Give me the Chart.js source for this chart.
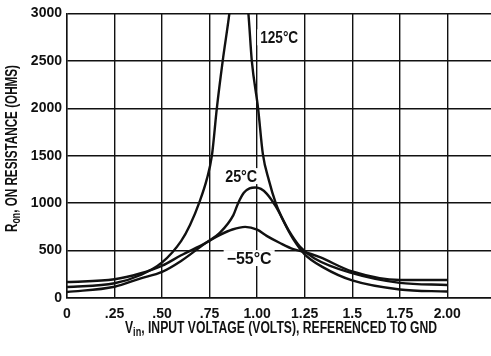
<!DOCTYPE html>
<html>
<head>
<meta charset="utf-8">
<script src="https://cdn.jsdelivr.net/npm/chart.js@4"></script>
<style>
  body { margin: 0; background: #fff; }
  #wrap { width: 491px; height: 356px; }
</style>
</head>
<body>
<div id="wrap"><canvas id="myChart" width="491" height="356"></canvas></div>
<script>
// input voltage (V) and on resistance (ohms) for each temperature
const volts125 = [0, 0.25, 0.384, 0.5, 0.6, 0.647, 0.70, 0.735, 0.762, 0.788, 0.819, 0.854, 0.905, 0.954, 0.972, 1.005, 1.03, 1.062, 1.098, 1.144, 1.19, 1.25, 1.35, 1.5, 1.75, 2.0];
const ohms125  = [116, 155, 240, 375, 600, 770, 1030, 1250, 1500, 2000, 2500, 3000, 3900, 3000, 2500, 2000, 1520, 1240, 1000, 790, 620, 460, 320, 185, 90, 68];

const volts25 = [0, 0.25, 0.384, 0.5, 0.6, 0.726, 0.805, 0.875, 0.90, 0.93, 0.96, 0.99, 1.02, 1.05, 1.098, 1.165, 1.226, 1.3, 1.5, 1.75, 2.0];
const ohms25  = [63, 119, 205, 275, 390, 576, 690, 874, 1000, 1110, 1155, 1165, 1150, 1100, 965, 716, 540, 420, 262, 160, 137];

const voltsM55 = [0, 0.25, 0.384, 0.5, 0.6, 0.726, 0.805, 0.87, 0.937, 1.0, 1.05, 1.12, 1.19, 1.25, 1.33, 1.5, 1.75, 2.0];
const ohmsM55  = [168, 197, 258, 340, 450, 576, 665, 722, 750, 720, 655, 580, 515, 485, 430, 280, 190, 190];

const xTickValues = [0, 0.25, 0.5, 0.75, 1.0, 1.25, 1.5, 1.75, 2.0];
const xTickLabels = ['0', '.25', '.50', '.75', '1.00', '1.25', '1.5', '1.75', '2.00'];

const curveLabels = [
    { text: '125°C', v: 1.116, r: 2748, w: 38 },
    { text: '25°C',  v: 0.916, r: 1285, w: 32 },
    { text: '\u221255°C', v: 0.958, r: 421, w: 45 }
];

const FONT = '"Liberation Sans", Arial, sans-serif';

function toPoints(xs, ys) {
    let pts = [];
    for (let i = 0; i < xs.length; i++) {
        pts.push({ x: xs[i], y: ys[i] });
    }
    return pts;
}

function makeSet(label, xs, ys) {
    return {
        label: label,
        data: toPoints(xs, ys),
        borderColor: '#111',
        borderWidth: 2.4,
        pointRadius: 0,
        fill: false,
        cubicInterpolationMode: 'monotone'
    };
}

// draws text pieces in a row (some as subscripts), squeezed to a given width
function drawRich(ctx, parts, cx, cy, width) {
    let total = 0;
    parts.forEach(p => {
        ctx.font = 'bold ' + p.size + 'px ' + FONT;
        p.w = ctx.measureText(p.t).width;
        total += p.w;
    });
    let sx = width / total;
    ctx.save();
    ctx.translate(cx - width / 2, cy);
    ctx.scale(sx, 1);
    ctx.textBaseline = 'alphabetic';
    ctx.textAlign = 'left';
    let x = 0;
    parts.forEach(p => {
        ctx.font = 'bold ' + p.size + 'px ' + FONT;
        ctx.fillText(p.t, x, p.dy || 0);
        x += p.w;
    });
    ctx.restore();
}

const labelsPlugin = {
    id: 'labelsPlugin',
    beforeDatasetsDraw(chart) {
        const ctx = chart.ctx;
        const xs = chart.scales.x, ys = chart.scales.y;
        ctx.save();
        curveLabels.forEach(l => {
            let px = xs.getPixelForValue(l.v);
            let py = ys.getPixelForValue(l.r);
            ctx.fillStyle = '#fff';
            ctx.fillRect(px - l.w / 2 - 3, py - 8, l.w + 6, 16);
            ctx.fillStyle = '#111';
            drawRich(ctx, [{ t: l.text, size: 16 }], px, py + 6, l.w);
        });
        ctx.restore();
    },
    afterDraw(chart) {
        const ctx = chart.ctx;
        ctx.save();
        ctx.fillStyle = '#111';
        drawRich(ctx, [
            { t: 'V', size: 16 },
            { t: 'in', size: 12, dy: 3 },
            { t: ', INPUT VOLTAGE (VOLTS), REFERENCED TO GND', size: 16 }
        ], 281, 333, 312);

        ctx.translate(17, 148.5);
        ctx.rotate(-Math.PI / 2);
        drawRich(ctx, [
            { t: 'R', size: 16 },
            { t: 'on', size: 12, dy: 3 },
            { t: ', ON RESISTANCE (OHMS)', size: 16 }
        ], 0, 0, 167);
        ctx.restore();
    }
};

const config = {
    type: 'line',
    data: {
        datasets: [
            makeSet('125°C', volts125, ohms125),
            makeSet('25°C', volts25, ohms25),
            makeSet('-55°C', voltsM55, ohmsM55)
        ]
    },
    options: {
        responsive: false,
        animation: false,
        devicePixelRatio: 1,
        layout: { padding: { top: 13, right: 0, left: 0, bottom: 0 } },
        plugins: {
            legend: { display: false },
            tooltip: { enabled: false }
        },
        scales: {
            x: {
                type: 'linear',
                min: 0,
                max: 2.23,
                afterBuildTicks: function(scale) {
                    scale.ticks = xTickValues.map(v => ({ value: v }));
                },
                afterFit: function(scale) {
                    scale.height = 58;
                },
                ticks: {
                    color: '#111',
                    padding: 8,
                    maxRotation: 0,
                    autoSkip: false,
                    font: { family: FONT, size: 14, weight: 'bold' },
                    callback: function(value) {
                        let i = xTickValues.indexOf(value);
                        return i >= 0 ? xTickLabels[i] : '';
                    }
                },
                grid: { color: '#111', lineWidth: 1.4, drawTicks: false },
                border: { color: '#111', width: 1.4 }
            },
            y: {
                min: 0,
                max: 3000,
                afterFit: function(scale) {
                    scale.width = 67;
                },
                ticks: {
                    stepSize: 500,
                    color: '#111',
                    padding: 5,
                    font: { family: FONT, size: 14, weight: 'bold' },
                    callback: function(value) {
                        return String(value);
                    }
                },
                grid: { color: '#111', lineWidth: 1.4, drawTicks: false },
                border: { color: '#111', width: 1.4 }
            }
        }
    },
    plugins: [labelsPlugin]
};

window.chart = new Chart(document.getElementById('myChart'), config);
</script>
</body>
</html>
